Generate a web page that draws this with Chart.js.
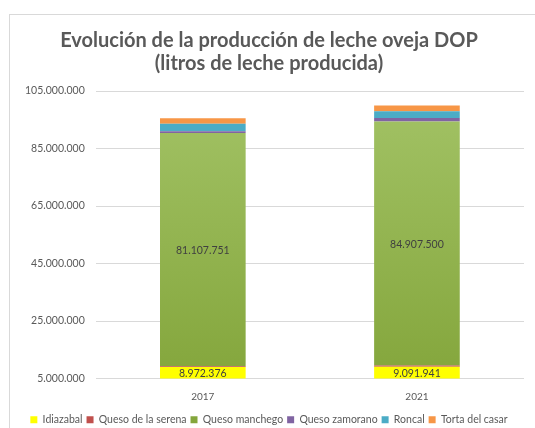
<!DOCTYPE html>
<html>
<head>
<meta charset="utf-8">
<script src="https://cdn.jsdelivr.net/npm/chart.js@4.4.1/dist/chart.umd.min.js"></script>
<style>
  html, body { margin: 0; padding: 0; background: #fff; }
  #frame { position: absolute; left: 9px; top: 14px; width: 526px; height: 414px;
           border-left: 1px solid #d9d9d9; border-top: 1px solid #d9d9d9; box-sizing: border-box; }
</style>
</head>
<body>
<div id="frame"><canvas id="chart" width="525" height="413"></canvas></div>
<script>
const years = ['2017', '2021'];
const idiazabal = [8972376, 9091941];
const serena = [300000, 400000];
const manchego = [81107751, 84907500];
const zamorano = [600000, 1200000];
const roncal = [2600000, 2400000];
const torta = [1900000, 2000000];
const yTicks = [5000000, 25000000, 45000000, 65000000, 85000000, 105000000];

function fmt(v) {
    return Math.round(v).toString().replace(/\B(?=(\d{3})+(?!\d))/g, '.');
}

function greenFill(c) {
    const area = c.chart.chartArea;
    if (!area) return '#92b64c';
    const g = c.chart.ctx.createLinearGradient(0, area.top, 0, area.bottom);
    g.addColorStop(0, '#a3c366');
    g.addColorStop(1, '#84a63c');
    return g;
}

// draw value labels inside the Idiazabal and Manchego segments
const segLabels = {
    id: 'segLabels',
    afterDatasetsDraw(chart) {
        const ctx = chart.ctx;
        const area = chart.chartArea;
        [0, 2].forEach(di => {
            const meta = chart.getDatasetMeta(di);
            meta.data.forEach((bar, i) => {
                const top = Math.max(bar.y, area.top);
                const bottom = Math.min(bar.base, area.bottom);
                ctx.save();
                ctx.font = '10.5px Lato';
                ctx.fillStyle = '#404040';
                ctx.textAlign = 'center';
                ctx.textBaseline = 'middle';
                ctx.fillText(fmt(chart.data.datasets[di].data[i]), bar.x, (top + bottom) / 2 + 1);
                ctx.restore();
            });
        });
    }
};

new Chart(document.getElementById('chart').getContext('2d'), {
    type: 'bar',
    data: {
        labels: years,
        datasets: [
            {label: 'Idiazabal', data: idiazabal, backgroundColor: '#ffff00'},
            {label: 'Queso de la serena', data: serena, backgroundColor: '#c0504d'},
            {label: 'Queso manchego', data: manchego, backgroundColor: greenFill},
            {label: 'Queso zamorano', data: zamorano, backgroundColor: '#8064a2'},
            {label: 'Roncal', data: roncal, backgroundColor: '#4bacc6'},
            {label: 'Torta del casar', data: torta, backgroundColor: '#f79646'}
        ]
    },
    options: {
        responsive: false,
        animation: false,
        layout: {padding: {left: 4, right: 11, top: 4, bottom: -7}},
        datasets: {bar: {barPercentage: 0.4, categoryPercentage: 1.0}},
        plugins: {
            title: {
                display: true,
                text: ['Evolución de la producción de leche oveja DOP', '(litros de leche producida)'],
                color: '#595959',
                font: {family: 'Lato', size: 20, weight: 'bold', lineHeight: 1.15},
                padding: {top: 10, bottom: 16}
            },
            legend: {
                position: 'bottom',
                labels: {
                    color: '#595959',
                    font: {family: 'Lato', size: 10.5},
                    boxWidth: 7, boxHeight: 7, padding: 4
                }
            },
            tooltip: {enabled: false}
        },
        scales: {
            x: {
                stacked: true,
                grid: {display: false},
                border: {display: false},
                afterFit: axis => { axis.height += 4; },
                ticks: {color: '#595959', font: {family: 'Lato', size: 10}, padding: 4}
            },
            y: {
                stacked: true,
                min: yTicks[0],
                max: yTicks[yTicks.length - 1],
                afterBuildTicks: axis => { axis.ticks = yTicks.map(v => ({value: v})); },
                grid: {color: '#d9d9d9', drawTicks: false},
                border: {display: false},
                ticks: {color: '#595959', font: {family: 'Lato', size: 10.5}, padding: 11, callback: v => fmt(v)}
            }
        }
    },
    plugins: [segLabels]
});
</script>
</body>
</html>
